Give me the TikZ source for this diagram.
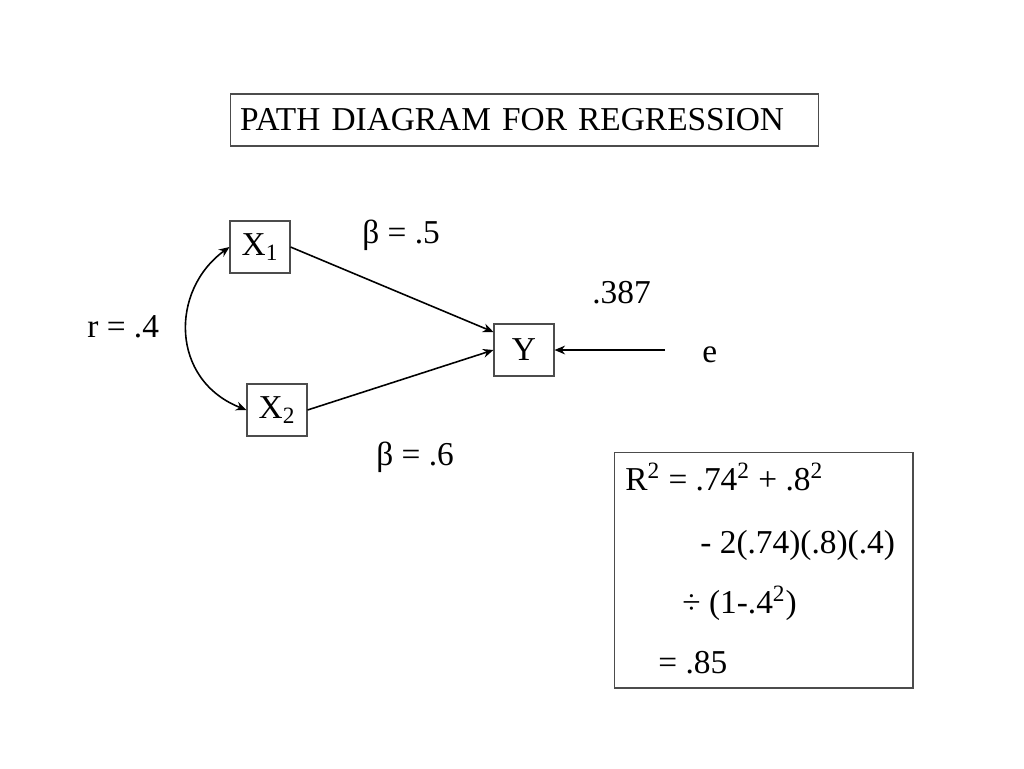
\documentclass[tikz,border=0pt]{standalone}
\usepackage{fontspec}
\setmainfont{Liberation Serif}
\usetikzlibrary{arrows.meta}

\tikzset{
  varbox/.style={draw=black!70, line width=0.6pt, minimum width=1.2cm, minimum height=1.04cm, inner sep=0pt},
  lbl/.style={anchor=base west, inner sep=0pt},
  path/.style={->, line width=0.9pt}
}

\begin{document}
\begin{tikzpicture}[>={Stealth[length=6pt,width=5pt]}, x=0.02cm, y=-0.02cm, font=\fontsize{19}{23}\selectfont]

  \useasboundingbox (0,0) rectangle (1024,768);

  % Title
  \node[draw=black!70, line width=0.6pt, minimum height=1.04cm, inner xsep=0.2cm,
        text width=11.38cm, align=left] (title) at (524.5,120) {PATH DIAGRAM FOR REGRESSION};

  % Variables
  \node[varbox] (X1) at (260,247) {X\textsubscript{1}};
  \node[varbox] (X2) at (277,410) {X\textsubscript{2}};
  \node[varbox] (Y)  at (524,350) {Y};
  \node[lbl] (e) at (702,362) {e};
  \coordinate (estart) at (665,350);

  % Paths
  \draw[path] (X1.east) -- ([yshift=0.36cm]Y.west);
  \draw[path] (X2.east) -- (Y.west);
  \draw[path] (estart) -- (Y.east);
  \draw[<->, line width=0.9pt] (X1.west) .. controls (170,290) and (170,380) .. (X2.west);

  % Coefficients
  \node[lbl] (b1) at (362,243) {β = .5};
  \node[lbl] (b2) at (376,465) {β = .6};
  \node[lbl] (r)  at (87,337) {r = .4};
  \node[lbl] (ev) at (592,303) {.387};

  % R squared
  \node[draw=black!70, line width=0.6pt, minimum width=5.98cm, minimum height=4.72cm] (rsq) at (763.5,570) {};
  \node[lbl] (l1) at (625,490) {R\textsuperscript{2} = .74\textsuperscript{2} + .8\textsuperscript{2}};
  \node[lbl] (l2) at (700,553) {- 2(.74)(.8)(.4)};
  \node[lbl] (l3) at (682,613) {÷ (1-.4\textsuperscript{2})};
  \node[lbl] (l4) at (658,673) {= .85};

\end{tikzpicture}
\end{document}
